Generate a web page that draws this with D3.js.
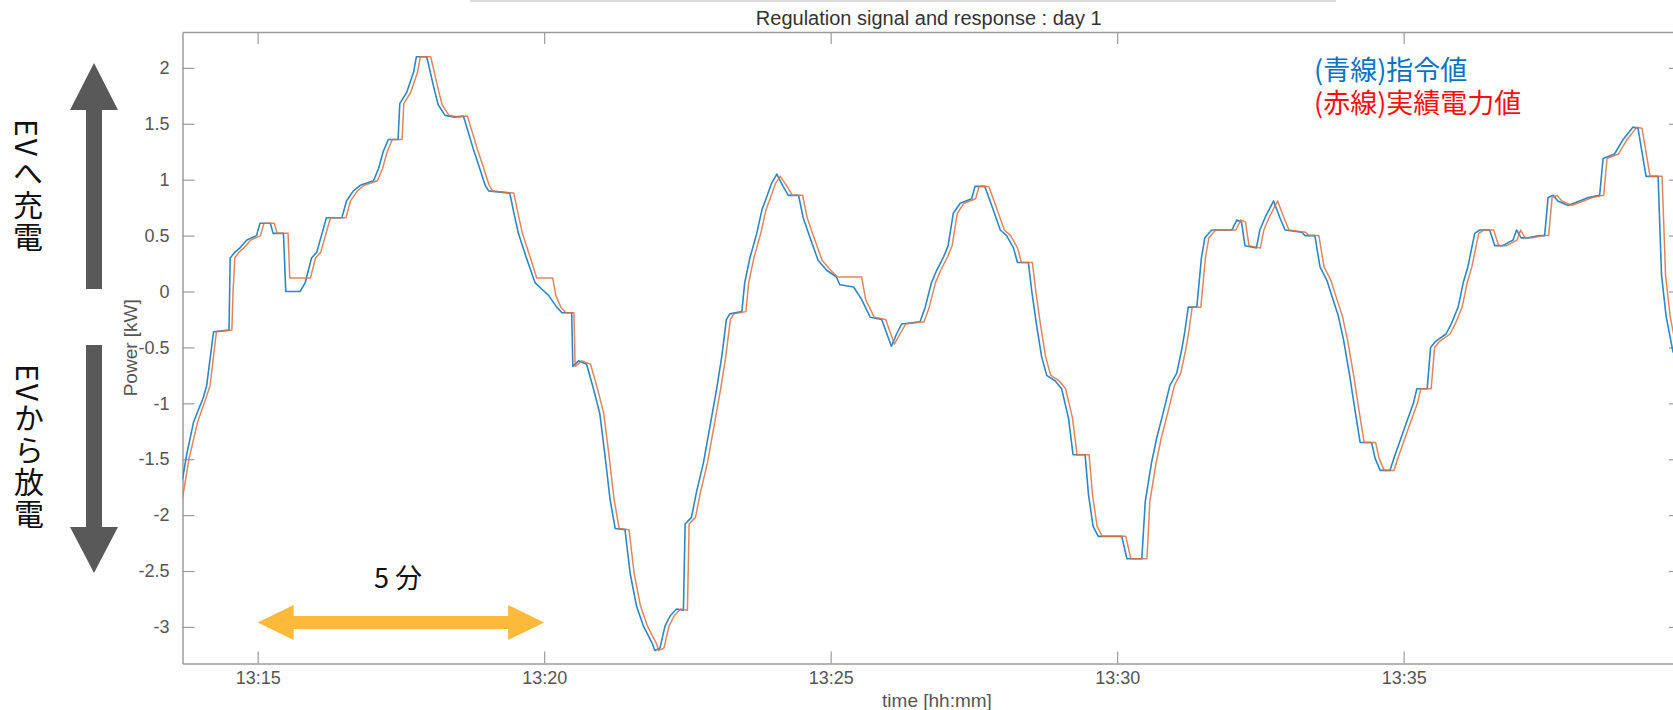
<!DOCTYPE html>
<html>
<head>
<meta charset="utf-8">
<script src="https://cdn.jsdelivr.net/npm/d3@7"></script>
<style>
  body { margin: 0; background: #fff; }
  svg { display: block; }
</style>
</head>
<body>
<div id="chart"></div>
<script>
// data: [minutes after 13:00, kW]
var signalPts = [
  [13.688,-1.68],[13.76,-1.46],[13.88,-1.17],[14.05,-0.95],[14.11,-0.84],[14.23,-0.36],[14.50,-0.345],
  [14.52,0.30],[14.60,0.35],[14.69,0.39],[14.81,0.46],[14.98,0.50],[15.04,0.61],[15.22,0.61],[15.27,0.52],
  [15.45,0.52],[15.49,0.0],[15.74,0.0],[15.83,0.08],[15.94,0.30],[16.03,0.35],[16.20,0.66],[16.47,0.66],
  [16.55,0.81],[16.67,0.90],[16.79,0.95],[17.02,0.99],[17.11,1.10],[17.19,1.25],[17.28,1.36],[17.45,1.36],
  [17.48,1.68],[17.60,1.78],[17.72,1.96],[17.77,2.10],[17.95,2.10],[18.09,1.79],[18.15,1.67],[18.27,1.575],
  [18.44,1.56],[18.59,1.57],[18.76,1.28],[18.85,1.14],[18.97,0.95],[19.03,0.90],[19.40,0.88],[19.46,0.73],
  [19.55,0.52],[19.69,0.30],[19.84,0.08],[19.96,0.02],[20.07,-0.03],[20.22,-0.14],[20.31,-0.19],[20.48,-0.19],
  [20.50,-0.67],[20.60,-0.62],[20.74,-0.65],[20.86,-0.87],[20.97,-1.09],[21.06,-1.46],[21.15,-1.86],[21.24,-2.12],
  [21.41,-2.13],[21.50,-2.52],[21.61,-2.81],[21.73,-2.99],[21.88,-3.14],[21.93,-3.21],[22.02,-3.19],[22.11,-2.99],
  [22.20,-2.90],[22.31,-2.84],[22.43,-2.85],[22.46,-2.08],[22.57,-2.02],[22.66,-1.79],[22.78,-1.53],[22.92,-1.13],
  [23.01,-0.87],[23.10,-0.58],[23.18,-0.25],[23.24,-0.20],[23.45,-0.18],[23.50,0.08],[23.59,0.30],[23.71,0.52],
  [23.80,0.73],[23.88,0.84],[23.97,0.97],[24.06,1.05],[24.17,0.94],[24.26,0.86],[24.44,0.86],[24.52,0.66],
  [24.64,0.48],[24.78,0.28],[24.93,0.19],[25.10,0.13],[25.16,0.06],[25.40,0.04],[25.54,-0.07],[25.69,-0.23],
  [25.89,-0.25],[26.06,-0.49],[26.15,-0.38],[26.24,-0.29],[26.56,-0.27],[26.65,-0.14],[26.76,0.08],[26.85,0.19],
  [26.97,0.31],[27.05,0.41],[27.14,0.70],[27.26,0.79],[27.46,0.83],[27.52,0.94],[27.69,0.94],[27.81,0.77],
  [27.96,0.55],[28.07,0.50],[28.19,0.39],[28.26,0.26],[28.45,0.26],[28.51,0.0],[28.59,-0.29],[28.68,-0.58],
  [28.77,-0.75],[28.92,-0.80],[29.03,-0.87],[29.15,-1.13],[29.23,-1.46],[29.44,-1.46],[29.50,-1.82],[29.58,-2.10],
  [29.67,-2.19],[30.08,-2.19],[30.17,-2.39],[30.43,-2.39],[30.49,-1.88],[30.60,-1.53],[30.69,-1.31],[30.81,-1.07],
  [30.92,-0.84],[31.04,-0.73],[31.13,-0.51],[31.18,-0.36],[31.24,-0.14],[31.39,-0.14],[31.47,0.30],[31.53,0.48],
  [31.65,0.55],[32.00,0.55],[32.09,0.64],[32.17,0.62],[32.23,0.41],[32.43,0.39],[32.49,0.55],[32.58,0.66],
  [32.73,0.81],[32.84,0.66],[32.93,0.55],[33.22,0.53],[33.28,0.50],[33.45,0.50],[33.54,0.22],[33.66,0.10],
  [33.74,-0.03],[33.86,-0.22],[33.95,-0.43],[34.06,-0.76],[34.15,-1.06],[34.24,-1.35],[34.44,-1.35],[34.50,-1.49],
  [34.59,-1.60],[34.76,-1.60],[34.85,-1.46],[34.94,-1.33],[35.05,-1.17],[35.17,-1.00],[35.23,-0.87],[35.41,-0.87],
  [35.47,-0.50],[35.55,-0.45],[35.60,-0.43],[35.74,-0.38],[35.83,-0.29],[35.95,-0.14],[36.04,0.08],[36.12,0.22],
  [36.24,0.52],[36.33,0.55],[36.50,0.55],[36.59,0.41],[36.73,0.41],[36.91,0.46],[36.97,0.55],[37.05,0.48],
  [37.17,0.48],[37.37,0.50],[37.46,0.50],[37.52,0.84],[37.61,0.86],[37.69,0.81],[37.87,0.77],[38.07,0.81],
  [38.22,0.84],[38.42,0.86],[38.48,1.19],[38.68,1.23],[38.83,1.36],[39.00,1.47],[39.09,1.46],[39.23,1.03],
  [39.44,1.03],[39.50,0.15],[39.58,-0.22],[39.70,-0.54],[39.84,-0.60]
];

var responsePts = [
  [13.688,-1.85],[13.80,-1.50],[13.95,-1.17],[14.10,-0.95],[14.17,-0.84],[14.28,-0.36],[14.55,-0.345],
  [14.57,0.0],[14.59,0.18],[14.60,0.30],[14.67,0.35],[14.76,0.39],[14.88,0.46],[15.05,0.50],[15.11,0.61],
  [15.29,0.61],[15.34,0.52],[15.53,0.52],[15.56,0.12],[15.92,0.12],[16.01,0.30],[16.10,0.35],[16.27,0.66],
  [16.54,0.66],[16.62,0.81],[16.74,0.90],[16.86,0.95],[17.09,0.99],[17.18,1.10],[17.26,1.25],[17.35,1.36],
  [17.52,1.36],[17.55,1.68],[17.67,1.78],[17.79,1.96],[17.84,2.10],[18.02,2.10],[18.16,1.79],[18.22,1.67],
  [18.34,1.575],[18.51,1.56],[18.66,1.57],[18.83,1.28],[18.92,1.14],[19.04,0.95],[19.10,0.90],[19.47,0.88],
  [19.53,0.73],[19.62,0.52],[19.76,0.30],[19.87,0.12],[20.15,0.12],[20.20,-0.03],[20.29,-0.14],[20.38,-0.19],
  [20.52,-0.19],[20.54,-0.67],[20.66,-0.62],[20.81,-0.65],[20.93,-0.87],[21.04,-1.09],[21.13,-1.46],[21.22,-1.86],
  [21.31,-2.12],[21.48,-2.13],[21.57,-2.52],[21.68,-2.81],[21.80,-2.99],[21.95,-3.14],[22.00,-3.21],[22.09,-3.19],
  [22.18,-2.99],[22.27,-2.90],[22.38,-2.84],[22.50,-2.85],[22.53,-2.08],[22.64,-2.02],[22.73,-1.79],[22.85,-1.53],
  [22.99,-1.13],[23.08,-0.87],[23.17,-0.58],[23.25,-0.25],[23.31,-0.20],[23.52,-0.18],[23.57,0.08],[23.66,0.30],
  [23.78,0.52],[23.87,0.73],[23.95,0.84],[24.04,0.97],[24.12,1.03],[24.24,0.94],[24.33,0.86],[24.51,0.86],
  [24.59,0.66],[24.71,0.48],[24.85,0.28],[25.00,0.19],[25.12,0.13],[25.54,0.13],[25.61,-0.07],[25.76,-0.23],
  [25.96,-0.25],[26.11,-0.47],[26.21,-0.38],[26.31,-0.29],[26.63,-0.27],[26.72,-0.14],[26.83,0.08],[26.92,0.19],
  [27.04,0.31],[27.12,0.41],[27.21,0.70],[27.33,0.79],[27.53,0.83],[27.59,0.94],[27.76,0.94],[27.88,0.77],
  [28.03,0.55],[28.14,0.50],[28.26,0.39],[28.33,0.26],[28.52,0.26],[28.58,0.0],[28.66,-0.29],[28.75,-0.58],
  [28.84,-0.75],[28.99,-0.80],[29.10,-0.87],[29.22,-1.13],[29.30,-1.46],[29.51,-1.46],[29.57,-1.82],[29.65,-2.10],
  [29.74,-2.19],[30.15,-2.19],[30.24,-2.39],[30.52,-2.39],[30.57,-1.88],[30.68,-1.53],[30.77,-1.31],[30.89,-1.07],
  [31.00,-0.84],[31.11,-0.73],[31.20,-0.51],[31.25,-0.36],[31.31,-0.14],[31.46,-0.14],[31.54,0.30],[31.60,0.48],
  [31.72,0.55],[32.07,0.55],[32.16,0.64],[32.24,0.62],[32.30,0.41],[32.50,0.39],[32.56,0.55],[32.65,0.66],
  [32.80,0.81],[32.91,0.66],[33.00,0.55],[33.29,0.53],[33.35,0.50],[33.52,0.50],[33.61,0.22],[33.73,0.10],
  [33.81,-0.03],[33.93,-0.22],[34.02,-0.43],[34.13,-0.76],[34.22,-1.06],[34.31,-1.35],[34.51,-1.35],[34.57,-1.49],
  [34.66,-1.60],[34.83,-1.60],[34.92,-1.46],[35.01,-1.33],[35.12,-1.17],[35.24,-1.00],[35.30,-0.87],[35.48,-0.87],
  [35.54,-0.50],[35.62,-0.45],[35.67,-0.43],[35.81,-0.38],[35.90,-0.29],[36.02,-0.14],[36.11,0.08],[36.19,0.22],
  [36.31,0.52],[36.40,0.55],[36.57,0.55],[36.66,0.41],[36.80,0.41],[36.98,0.46],[37.04,0.55],[37.12,0.48],
  [37.24,0.48],[37.44,0.50],[37.53,0.50],[37.59,0.84],[37.68,0.86],[37.76,0.81],[37.94,0.77],[38.14,0.81],
  [38.29,0.84],[38.49,0.86],[38.55,1.19],[38.75,1.23],[38.90,1.36],[39.07,1.47],[39.16,1.46],[39.30,1.03],
  [39.51,1.03],[39.57,0.15],[39.65,-0.22],[39.77,-0.54],[39.84,-0.58]
];

var xTickLabels = ["13:15", "13:20", "13:25", "13:30", "13:35"];
var yTicks = [-3, -2.5, -2, -1.5, -1, -0.5, 0, 0.5, 1, 1.5, 2];
var xRange = [13.688, 39.84];   // minutes after 13:00
var yRange = [-3.327, 2.321];

var titleText = "Regulation signal and response : day 1";
var legendLines = ["(青線)指令値", "(赤線)実績電力値"];
var chargeText = "EVへ充電";
var dischargeText = "EVから放電";
var spanText = "5 分";
var spanTicks = ["13:15", "13:20"];

// setup
var W = 1673, H = 710;
var plot = {left: 182.5, top: 32, right: 1681, bottom: 663.5};
var axisGray = "#9b9b9b", textGray = "#555";
var latin = "'Liberation Sans', Arial, sans-serif";
var cjk = "'Noto Sans CJK JP', sans-serif";

var base = new Date(2017, 0, 1, 13, 0, 0);
function toDate(m) { return new Date(base.getTime() + m * 60000); }
var parseHM = d3.timeParse("%Y-%m-%d %H:%M");
function hm(s) { return parseHM("2017-01-01 " + s); }

var svg = d3.select("#chart").append("svg")
  .attr("width", W).attr("height", H);

svg.append("rect").attr("width", W).attr("height", H).attr("fill", "#fff");

// faint edge of the pasted window at the top
svg.append("line")
  .attr("x1", 470).attr("x2", 1336).attr("y1", 1).attr("y2", 1)
  .attr("stroke", "#dcdcdc").attr("stroke-width", 2);

var x = d3.scaleTime()
  .domain(xRange.map(toDate))
  .range([plot.left, plot.right]);

var y = d3.scaleLinear()
  .domain(yRange)
  .range([plot.bottom, plot.top]);

svg.append("clipPath").attr("id", "clip")
  .append("rect")
  .attr("x", plot.left).attr("y", plot.top)
  .attr("width", plot.right - plot.left).attr("height", plot.bottom - plot.top);

// axes (box with inward ticks)
var xTickVals = xTickLabels.map(hm);

var gx = svg.append("g")
  .attr("transform", "translate(0," + plot.bottom + ")")
  .call(d3.axisBottom(x).tickValues(xTickVals).tickFormat(d3.timeFormat("%H:%M"))
    .tickSizeInner(-12).tickSizeOuter(0).tickPadding(8));

var gxTop = svg.append("g")
  .attr("transform", "translate(0," + plot.top + ")")
  .call(d3.axisTop(x).tickValues(xTickVals).tickFormat("")
    .tickSizeInner(-12).tickSizeOuter(0));

var gy = svg.append("g")
  .attr("transform", "translate(" + plot.left + ",0)")
  .call(d3.axisLeft(y).tickValues(yTicks).tickFormat(function(d) { return String(d); })
    .tickSizeInner(-12).tickSizeOuter(0).tickPadding(13));

var gyRight = svg.append("g")
  .attr("transform", "translate(" + plot.right + ",0)")
  .call(d3.axisRight(y).tickValues(yTicks).tickFormat("")
    .tickSizeInner(-12).tickSizeOuter(0));

[gx, gxTop, gy, gyRight].forEach(function(g) {
  g.select(".domain").attr("stroke", axisGray).attr("stroke-width", 1.5);
  g.selectAll(".tick line").attr("stroke", axisGray).attr("stroke-width", 1.2);
  g.selectAll(".tick text")
    .attr("fill", textGray)
    .style("font-family", latin)
    .style("font-size", "18px");
});

// titles
svg.append("text")
  .attr("x", (plot.left + plot.right) / 2 - 3).attr("y", 25)
  .attr("text-anchor", "middle")
  .attr("fill", "#333")
  .style("font-family", latin)
  .style("font-size", "20px")
  .text(titleText);

svg.append("text")
  .attr("x", 937).attr("y", 707)
  .attr("text-anchor", "middle")
  .attr("fill", textGray)
  .style("font-family", latin)
  .style("font-size", "19px")
  .text("time [hh:mm]");

svg.append("text")
  .attr("transform", "translate(137," + (plot.top + plot.bottom) / 2 + ") rotate(-90)")
  .attr("text-anchor", "middle")
  .attr("fill", textGray)
  .style("font-family", latin)
  .style("font-size", "19px")
  .text("Power [kW]");

// lines
var line = d3.line()
  .x(function(d) { return x(toDate(d[0])); })
  .y(function(d) { return y(d[1]); });

var lines = svg.append("g").attr("clip-path", "url(#clip)");

lines.append("path")
  .datum(signalPts)
  .attr("fill", "none")
  .attr("stroke", "#2b87c8")
  .attr("stroke-width", 1.6)
  .attr("stroke-linejoin", "round")
  .attr("d", line);

lines.append("path")
  .datum(responsePts)
  .attr("fill", "none")
  .attr("stroke", "#de7040")
  .attr("stroke-width", 1.5)
  .attr("stroke-opacity", 0.85)
  .attr("stroke-linejoin", "round")
  .attr("d", line);

// legend (one text block, two lines)
var legendColors = ["#0a72c4", "#ff0d0d"];
svg.append("text")
  .attr("class", "legend")
  .style("font-family", cjk)
  .style("font-size", "27px")
  .selectAll("tspan")
  .data(legendLines)
  .enter().append("tspan")
  .attr("x", 1314)
  .attr("y", function(d, i) { return 80 + i * 33; })
  .attr("fill", function(d, i) { return legendColors[i]; })
  .text(function(d) { return d; });

// big gray arrows
var arrowGray = "#595959";
var ax = 94;
svg.append("path")
  .attr("fill", arrowGray)
  .attr("d", "M" + ax + ",63 L" + (ax + 24) + ",110 L" + (ax + 8) + ",110 L" + (ax + 8) + ",289 L" +
    (ax - 8) + ",289 L" + (ax - 8) + ",110 L" + (ax - 24) + ",110 Z");
svg.append("path")
  .attr("fill", arrowGray)
  .attr("d", "M" + ax + ",573 L" + (ax + 24) + ",527 L" + (ax + 8) + ",527 L" + (ax + 8) + ",345 L" +
    (ax - 8) + ",345 L" + (ax - 8) + ",527 L" + (ax - 24) + ",527 Z");

[[chargeText, 28, 119], [dischargeText, 29, 364]].forEach(function(t) {
  svg.append("text")
    .attr("x", t[1]).attr("y", t[2])
    .style("writing-mode", "vertical-rl")
    .style("text-orientation", "mixed")
    .style("font-family", cjk)
    .style("font-size", "30px")
    .style("letter-spacing", "2px")
    .attr("fill", "#111")
    .text(t[0]);
});

// 5 minute span arrow
var sx0 = x(hm(spanTicks[0])), sx1 = x(hm(spanTicks[1]));
var sy = 622.5, hw = 6.5, hh = 17.5, hl = 36;
svg.append("path")
  .attr("fill", "#fdb93a")
  .attr("d", "M" + sx0 + "," + sy +
    " L" + (sx0 + hl) + "," + (sy - hh) + " L" + (sx0 + hl) + "," + (sy - hw) +
    " L" + (sx1 - hl) + "," + (sy - hw) + " L" + (sx1 - hl) + "," + (sy - hh) +
    " L" + sx1 + "," + sy +
    " L" + (sx1 - hl) + "," + (sy + hh) + " L" + (sx1 - hl) + "," + (sy + hw) +
    " L" + (sx0 + hl) + "," + (sy + hw) + " L" + (sx0 + hl) + "," + (sy + hh) + " Z");

svg.append("text")
  .attr("x", (sx0 + sx1) / 2 - 3).attr("y", 588)
  .attr("text-anchor", "middle")
  .attr("fill", "#111")
  .style("font-family", cjk)
  .style("font-size", "27px")
  .text(spanText);
</script>
</body>
</html>
